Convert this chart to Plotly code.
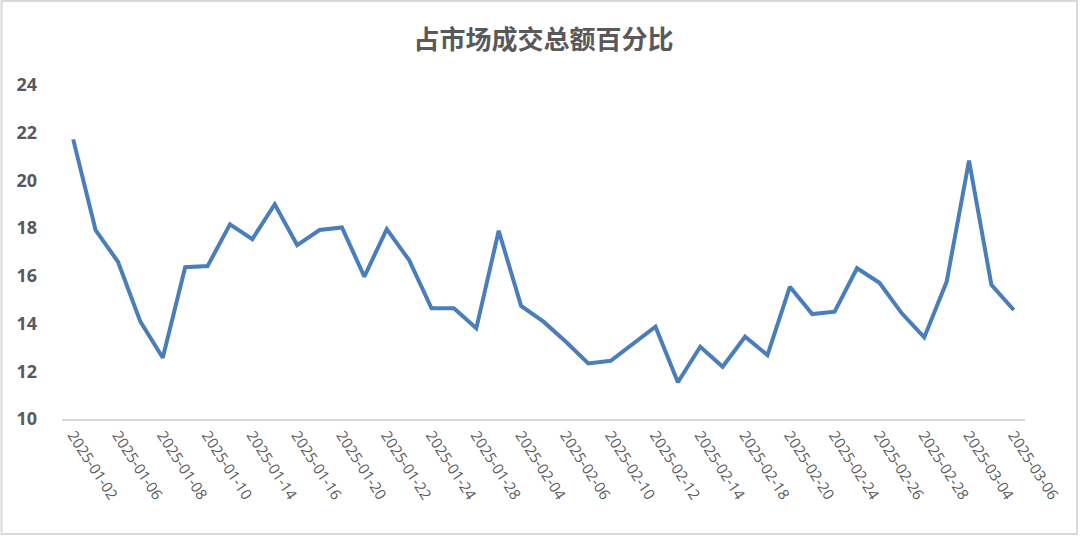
import plotly.graph_objects as go

dates = ["2025-01-02","2025-01-03","2025-01-06","2025-01-07","2025-01-08","2025-01-09","2025-01-10",
         "2025-01-13","2025-01-14","2025-01-15","2025-01-16","2025-01-17","2025-01-20","2025-01-21",
         "2025-01-22","2025-01-23","2025-01-24","2025-01-27","2025-01-28","2025-02-03","2025-02-04",
         "2025-02-05","2025-02-06","2025-02-07","2025-02-10","2025-02-11","2025-02-12","2025-02-13",
         "2025-02-14","2025-02-17","2025-02-18","2025-02-19","2025-02-20","2025-02-21","2025-02-24",
         "2025-02-25","2025-02-26","2025-02-27","2025-02-28","2025-03-03","2025-03-04","2025-03-05",
         "2025-03-06"]
share = [21.72,17.92,16.59,14.08,12.57,16.36,16.41,18.16,17.54,19.0,17.29,17.92,18.03,15.97,
         17.96,16.66,14.64,14.64,13.80,17.89,14.74,14.08,13.24,12.33,12.44,13.17,13.87,11.54,
         13.03,12.19,13.45,12.68,15.54,14.40,14.50,16.32,15.71,14.43,13.42,15.75,20.83,15.62,14.57]
tick_labels = dates[::2]
y_ticks = [10, 12, 14, 16, 18, 20, 22, 24]
title_text = "占市场成交总额百分比"

W, H = 1080, 536
ml, mr, mt, mb = 61.5, 55, 85, 117
pw = W - ml - mr
ph = H - mt - mb


def px_x(p):
    return (p - ml) / pw


def px_y(p):
    return (H - mb - p) / ph


fig = go.Figure()
fig.add_trace(go.Scatter(x=dates, y=share, mode="lines",
                         line=dict(color="#4A7EBB", width=4), hoverinfo="x+y"))

fig.add_shape(type="rect", xref="paper", yref="paper",
              x0=px_x(1), x1=px_x(1077), y0=px_y(534), y1=px_y(1),
              line=dict(color="#D9D9D9", width=2), layer="below")

fig.update_layout(
    width=W, height=H,
    margin=dict(l=ml, r=mr, t=mt, b=mb, pad=0),
    paper_bgcolor="white", plot_bgcolor="white",
    showlegend=False,
    title=dict(text=title_text, x=0.5, xref="paper", xanchor="center",
               y=1 - 40 / H, yref="container", yanchor="middle",
               font=dict(family="Noto Sans CJK SC", size=26, color="#595959", weight="bold")),
    font=dict(family="Open Sans", color="#595959"),
)
fig.update_xaxes(type="category", tickmode="array", tickvals=tick_labels, ticktext=tick_labels,
                 tickangle=57, showgrid=False, showline=True, linecolor="#D9D9D9", linewidth=1.5,
                 ticks="", tickfont=dict(size=15, color="#595959"), zeroline=False,
                 range=[-0.5, len(dates) - 0.5])
fig.update_yaxes(range=[10, 24], tickvals=y_ticks, showgrid=False, showline=False, zeroline=False,
                 ticks="", tickfont=dict(size=18, color="#595959", weight="bold"),
                 ticklabelstandoff=24)

fig.write_html("out.html", config={"displayModeBar": False},
               post_script="document.body.style.margin='0px';")
